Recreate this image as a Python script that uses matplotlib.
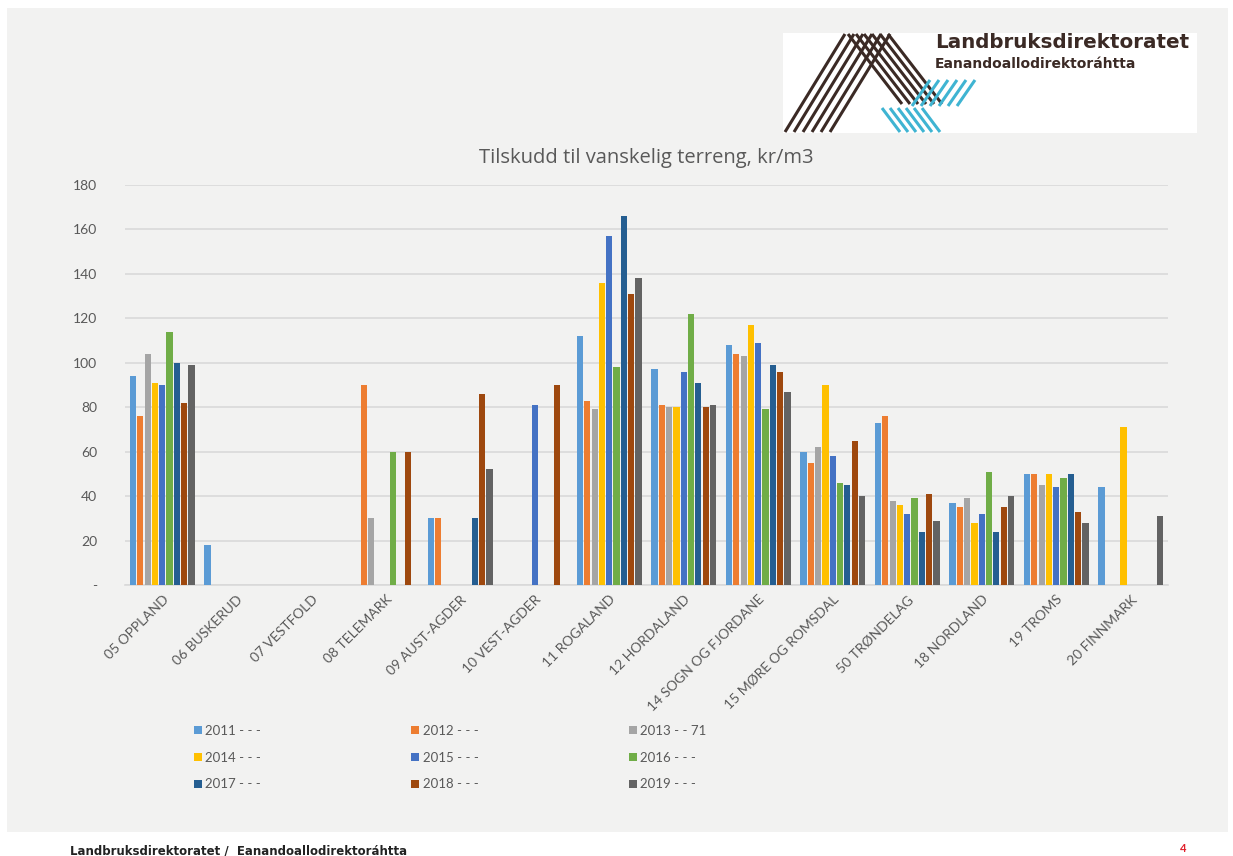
import numpy as np
import matplotlib.pyplot as plt
from matplotlib.patches import Rectangle
from matplotlib.lines import Line2D

plt.rcParams['font.family'] = ['Lato', 'DejaVu Sans']

# data (kr/m3), NaN = no bar
regions = ['05 OPPLAND', '06 BUSKERUD', '07 VESTFOLD', '08 TELEMARK', '09 AUST-AGDER',
           '10 VEST-AGDER', '11 ROGALAND', '12 HORDALAND', '14 SOGN OG FJORDANE',
           '15 MØRE OG ROMSDAL', '50 TRØNDELAG', '18 NORDLAND', '19 TROMS', '20 FINNMARK']
series_names = ['2011 - - -', '2012 - - -', '2013 - - 71', '2014 - - -', '2015 - - -',
                '2016 - - -', '2017 - - -', '2018 - - -', '2019 - - -']
colors = ['#5B9BD5', '#ED7D31', '#A5A5A5', '#FFC000', '#4472C4',
          '#70AD47', '#255E91', '#9E480E', '#636363']

n = np.nan
v2011 = [94, 18, n, n, 30, n, 112, 97, 108, 60, 73, 37, 50, 44]
v2012 = [76, n, n, 90, 30, n, 83, 81, 104, 55, 76, 35, 50, n]
v2013 = [104, n, n, 30, n, n, 79, 80, 103, 62, 38, 39, 45, n]
v2014 = [91, n, n, n, n, n, 136, 80, 117, 90, 36, 28, 50, 71]
v2015 = [90, n, n, n, n, 81, 157, 96, 109, 58, 32, 32, 44, n]
v2016 = [114, n, n, 60, n, n, 98, 122, 79, 46, 39, 51, 48, n]
v2017 = [100, n, n, n, 30, n, 166, 91, 99, 45, 24, 24, 50, n]
v2018 = [82, n, n, 60, 86, 90, 131, 80, 96, 65, 41, 35, 33, n]
v2019 = [99, n, n, n, 52, n, 138, 81, 87, 40, 29, 40, 28, 31]
values = [v2011, v2012, v2013, v2014, v2015, v2016, v2017, v2018, v2019]

W, H = 1233, 856
fig = plt.figure(figsize=(W / 100, H / 100), dpi=100, facecolor='white')

# grey slide panel (behind everything)
fig.patches.append(Rectangle((7 / W, 1 - 832 / H), 1221 / W, 824 / H,
                             transform=fig.transFigure, facecolor='#f2f2f1',
                             edgecolor='none', zorder=-10))

ax = fig.add_axes([125 / W, 1 - 585 / H, (1168 - 125) / W, 400 / H])
ax.set_facecolor('none')

x = np.arange(len(regions))
step = 0.098
width = 0.082
bars = []
for i, vals in enumerate(values):
    b = ax.bar(x + (i - 4) * step, vals, width, color=colors[i],
               label=series_names[i], zorder=3)
    bars.append(b)

ax.set_xlim(-0.5, len(regions) - 0.5)
ax.set_ylim(0, 180)
ax.set_yticks(np.arange(0, 181, 20))
ax.set_yticklabels(['-'] + [str(t) for t in range(20, 181, 20)])
ax.yaxis.grid(True, color='#d9d9d9', linewidth=1.2, zorder=0)
ax.set_axisbelow(True)
for s in ['top', 'right', 'left']:
    ax.spines[s].set_visible(False)
ax.spines['bottom'].set_color('#d9d9d9')
ax.spines['bottom'].set_linewidth(1.2)
ax.tick_params(axis='both', length=0, colors='#595959', labelsize=10)
ax.tick_params(axis='y', pad=20)
ax.set_xticks(x)
ax.set_xticklabels(regions, rotation=45, ha='right', rotation_mode='anchor')
ax.tick_params(axis='x', pad=6)

ax.set_title('Tilskudd til vanskelig terreng, kr/m3', fontsize=14.5, color='#595959', pad=16,
             family=['Open Sans', 'DejaVu Sans'])

# legend, filled row by row like the original
order = [0, 3, 6, 1, 4, 7, 2, 5, 8]
fig.legend([bars[k] for k in order], [series_names[k] for k in order],
           ncol=3, loc='upper left', bbox_to_anchor=(182 / W, 1 - 713 / H),
           frameon=False, fontsize=9.5, labelcolor='#595959',
           handlelength=0.6, handleheight=0.6, handletextpad=0.25,
           columnspacing=11.4, labelspacing=1.12)

# logo box
fig.patches.append(Rectangle((783 / W, 1 - 133 / H), 414 / W, 100 / H,
                             transform=fig.transFigure, facecolor='white',
                             edgecolor='none', zorder=1))


def px_line(x0, y0, x1, y1, c, lw=2.2):
    fig.add_artist(Line2D([x0 / W, x1 / W], [1 - y0 / H, 1 - y1 / H],
                          transform=fig.transFigure, color=c, linewidth=lw,
                          solid_capstyle='butt', zorder=2))


brown = '#3b2a25'
cyan = '#3fb4d2'
for k in range(6):
    px_line(785 + 9 * k, 132, 845 + 9 * k, 34, brown)
for k in range(6):
    px_line(848 + 8 * k, 34, 902 + 8 * k, 104, brown)
for k in range(6):
    px_line(912 + 9 * k, 106, 930 + 9 * k, 80, cyan)
for k in range(6):
    px_line(882 + 8 * k, 108, 900 + 8 * k, 132, cyan)

fig.text(935 / W, 1 - 42 / H, 'Landbruksdirektoratet', fontsize=14.3, fontweight='bold',
         color=brown, va='center', ha='left', zorder=3, family='DejaVu Sans')
fig.text(935 / W, 1 - 64 / H, 'Eanandoallodirektoráhtta', fontsize=10, fontweight='bold',
         color=brown, va='center', ha='left', zorder=3, family='DejaVu Sans')

# footer
fig.text(70 / W, 1 - 851 / H, 'Landbruksdirektoratet /  Eanandoallodirektoráhtta',
         fontsize=8.5, fontweight='bold', color='#222222', va='center', ha='left',
         family=['Liberation Sans Narrow', 'DejaVu Sans'])
fig.text(1183 / W, 1 - 849 / H, '4', fontsize=8, fontweight='bold', color='#e0202b',
         va='center', ha='center')

fig.savefig('out.png', dpi=100, facecolor='white')
